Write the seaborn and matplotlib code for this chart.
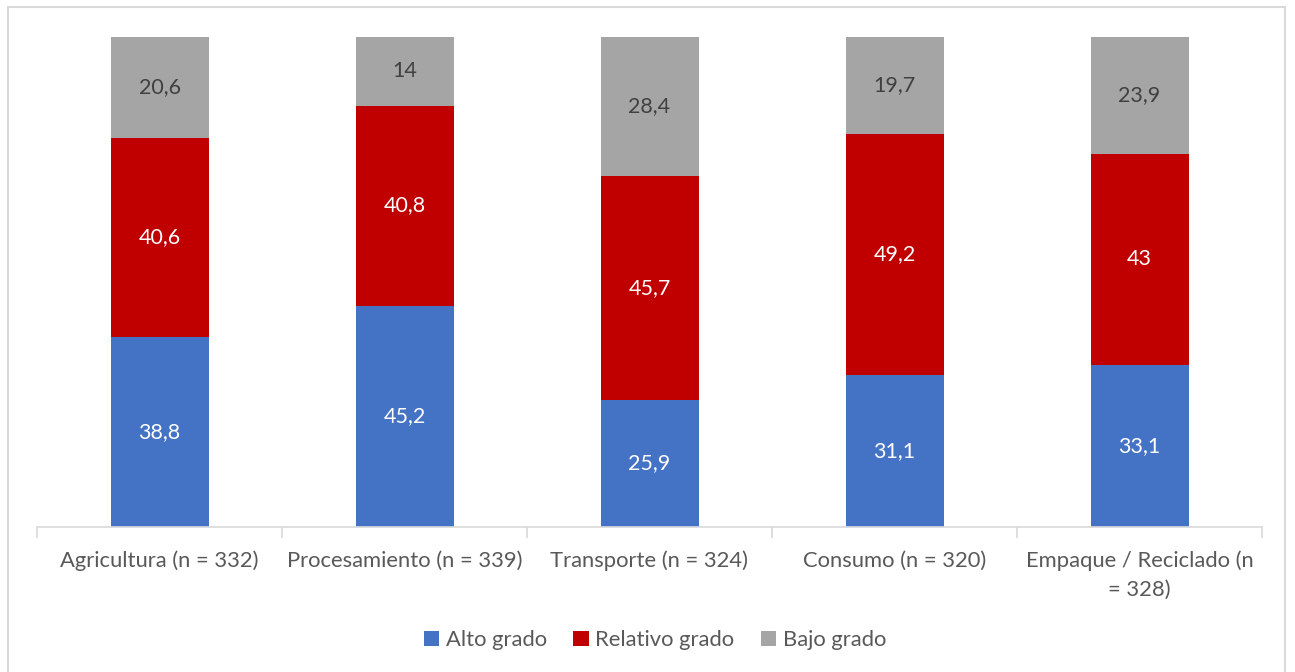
import matplotlib
matplotlib.use("Agg")
import matplotlib.pyplot as plt
import seaborn as sns
import pandas as pd
from matplotlib.patches import Rectangle, Patch

categories = ["Agricultura (n = 332)", "Procesamiento (n = 339)", "Transporte (n = 324)",
              "Consumo (n = 320)", "Empaque / Reciclado (n\n= 328)"]
alto = [38.8, 45.2, 25.9, 31.1, 33.1]
relativo = [40.6, 40.8, 45.7, 49.2, 43]
bajo = [20.6, 14, 28.4, 19.7, 23.9]
series_names = ["Alto grado", "Relativo grado", "Bajo grado"]
colors = ["#4472C4", "#C00000", "#A5A5A5"]
label_colors = ["white", "white", "#404040"]

sns.set_theme(style="white")
plt.rcParams['font.family'] = ['Lato', 'DejaVu Sans']

fig = plt.figure(figsize=(12.95, 6.72), dpi=100)
ax = fig.add_axes([37/1295, 1-527/672, (1262-37)/1295, (527-37)/672])

bottoms = [0]*len(categories)
vals_list = [alto, relativo, bajo]
for name, vals, col, lc in zip(series_names, vals_list, colors, label_colors):
    d = pd.DataFrame({"cat": categories, "v": vals})
    sns.barplot(data=d, x="cat", y="v", color=col, width=0.4, bottom=bottoms, ax=ax,
                saturation=1, linewidth=0, errorbar=None)
    cont = ax.containers[-1]
    ax.bar_label(cont, labels=[f"{v:g}".replace(".", ",") for v in vals], label_type="center",
                 color=lc, fontsize=15.5)
    bottoms = [b + v for b, v in zip(bottoms, vals)]

ax.set_ylim(0, 100)
ax.set_xlim(-0.5, len(categories)-0.5)
ax.set_xlabel("")
ax.set_ylabel("")
ax.set_yticks([])
for s in ["top", "right", "left"]:
    ax.spines[s].set_visible(False)
ax.spines["bottom"].set_color("#D9D9D9")
ax.spines["bottom"].set_linewidth(1.2)
ax.set_xticks([i for i in range(len(categories))])
ax.set_xticklabels(categories, fontsize=15.8, color="#595959", linespacing=1.55)
ax.tick_params(axis="x", length=0, pad=17)
ax.set_xticks([i - 0.5 for i in range(len(categories)+1)], minor=True)
ax.tick_params(axis="x", which="minor", length=8, color="#D9D9D9", width=1.2, bottom=True)

handles = [Patch(facecolor=c, edgecolor="none") for c in colors]
fig.legend(handles, series_names, loc="center", bbox_to_anchor=(655/1295, 1-640/672),
           ncol=3, frameon=False, fontsize=15.8, handlelength=0.7, handleheight=0.7,
           handletextpad=0.3, columnspacing=1.2, labelcolor="#595959")

fig.patches.append(Rectangle((8/1295, -0.05), (1285-8)/1295, 1.05-7/672,
                             transform=fig.transFigure, fill=False, edgecolor="#D9D9D9",
                             linewidth=1.5))

fig.savefig("out.png", dpi=100)
